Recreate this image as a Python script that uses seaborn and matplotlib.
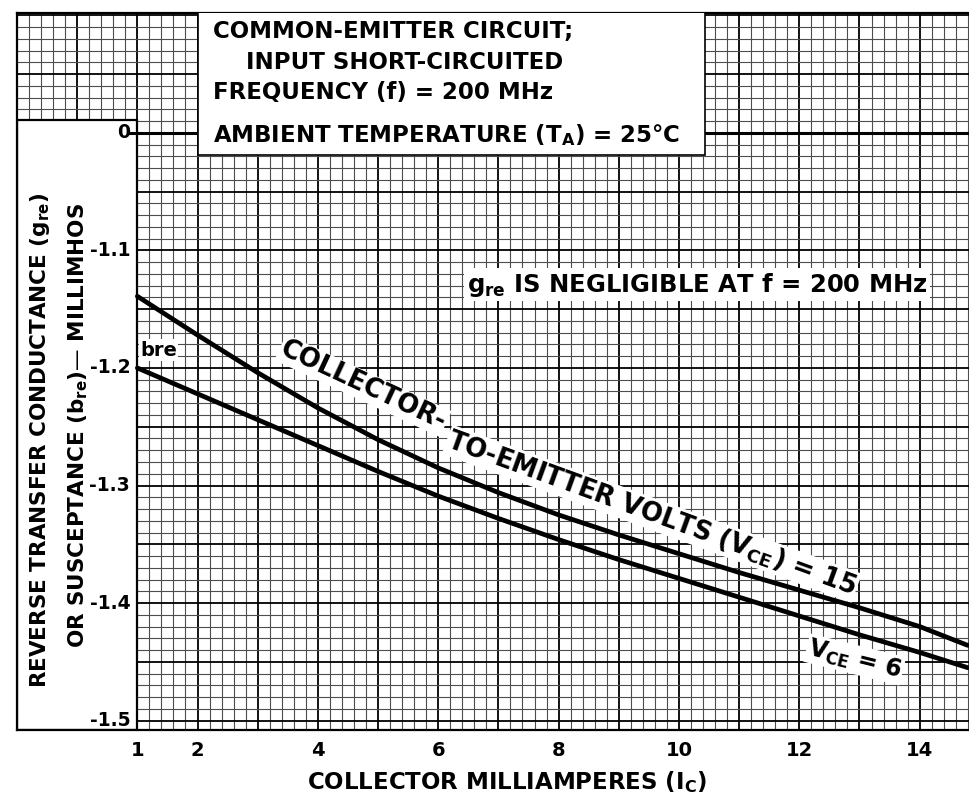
import numpy as np
import pandas as pd
import matplotlib.pyplot as plt
import seaborn as sns
from matplotlib.ticker import MultipleLocator, FuncFormatter
from matplotlib.patches import Rectangle

# collector current (mA) and reverse transfer susceptance b_re (millimhos)
ic = [1, 2, 3, 4, 5, 6, 7, 8, 9, 10, 11, 12, 13, 14, 14.8]
bre_vce15 = [-1.139, -1.172, -1.204, -1.234, -1.261, -1.285, -1.306, -1.325,
             -1.342, -1.358, -1.374, -1.389, -1.404, -1.420, -1.436]
bre_vce6 = [-1.200, -1.222, -1.244, -1.266, -1.288, -1.309, -1.328, -1.346,
            -1.363, -1.379, -1.395, -1.411, -1.427, -1.442, -1.455]
x_ticks = [1, 2, 4, 6, 8, 10, 12, 14]
y_ticks = [-1.0, -1.1, -1.2, -1.3, -1.4, -1.5]
y_tick_labels = ['0', '-1.1', '-1.2', '-1.3', '-1.4', '-1.5']

df = pd.DataFrame({'ic': ic * 2,
                   'bre': bre_vce15 + bre_vce6,
                   'vce': ['15'] * len(ic) + ['6'] * len(ic)})

sns.set_style('white')
plt.rcParams['font.family'] = ['DejaVu Sans']
plt.rcParams['mathtext.fontset'] = 'dejavusans'
plt.rcParams['mathtext.default'] = 'bf'
plt.rcParams['text.color'] = 'black'
plt.rcParams['xtick.color'] = 'black'

fig = plt.figure(figsize=(9.69, 8.05), dpi=100)
ax = fig.add_axes([17/969, 75/805, 952/969, 717/805])

# curves
sns.lineplot(data=df, x='ic', y='bre', hue='vce', palette=['black', 'black'],
             lw=3.4, legend=False, ax=ax, zorder=4)
ax.set_xlabel('')
ax.set_ylabel('')
ax.set_xlim(-1.0, 14.82)
ax.set_ylim(-1.508, -0.898)

# graph paper grid
ax.xaxis.set_major_locator(MultipleLocator(1))
ax.xaxis.set_minor_locator(MultipleLocator(0.2))
ax.yaxis.set_major_locator(MultipleLocator(0.05))
ax.yaxis.set_minor_locator(MultipleLocator(0.01))
ax.grid(which='major', color='black', lw=1.3)
ax.grid(which='minor', color='0.3', lw=0.8)
ax.set_axisbelow(True)
ax.xaxis.set_major_formatter(FuncFormatter(
    lambda v, p: f'{int(round(v))}' if int(round(v)) in x_ticks and abs(v - round(v)) < 1e-6 else ''))
ax.tick_params(axis='x', which='both', length=0, labelsize=14, pad=8, labelcolor='black')
ax.tick_params(axis='y', which='both', length=0, labelleft=False)
for lab in ax.get_xticklabels():
    lab.set_fontweight('bold')
for s in ['top', 'left', 'bottom']:
    ax.spines[s].set_linewidth(1.6)
    ax.spines[s].set_color('black')
ax.spines['right'].set_visible(False)

# white panel that holds the y labels
ax.add_patch(Rectangle((-1.0, -1.508), 2.0, 0.519, facecolor='white',
                       edgecolor='black', lw=1.6, zorder=1))

# zero line (broken axis)
ax.axhline(-1.0, xmin=(0.85 + 1.0) / 15.82, color='black', lw=2.2, zorder=2)

for v, t in zip(y_ticks, y_tick_labels):
    ax.text(0.88, v, t, ha='right', va='center', fontsize=13.5, fontweight='bold', zorder=5)

# header box
ax.add_patch(Rectangle((2.01, -1.019), 8.43, 0.2, facecolor='white',
                       edgecolor='black', lw=1.2, zorder=3))
tx = 2.25
ax.text(tx, -0.914, 'COMMON-EMITTER CIRCUIT;', fontsize=16.5, fontweight='bold', va='center', zorder=5)
ax.text(tx + 0.55, -0.940, 'INPUT SHORT-CIRCUITED', fontsize=16.5, fontweight='bold', va='center', zorder=5)
ax.text(tx, -0.966, 'FREQUENCY (f) = 200 MHz', fontsize=16.5, fontweight='bold', va='center', zorder=5)
ax.text(tx, -1.002, 'AMBIENT TEMPERATURE (T$_\\mathbf{A}$) = 25°C', fontsize=16.5,
        fontweight='bold', va='center', zorder=5)

ax.text(10.3, -1.129, 'g$_\\mathbf{re}$ IS NEGLIGIBLE AT f = 200 MHz', fontsize=17.5,
        fontweight='bold', ha='center', va='center', zorder=5,
        bbox=dict(facecolor='white', edgecolor='none', pad=2))

ax.text(1.35, -1.185, 'bre', fontsize=14, fontweight='bold', ha='center', va='center', zorder=5,
        bbox=dict(facecolor='white', edgecolor='none', pad=1))

# curve labels sit just above the curves (drawn under the lines)
ax.text(4.75, -1.215, 'COLLECTOR-', fontsize=18.5, fontweight='bold', ha='center', va='center',
        rotation=-25, rotation_mode='anchor', zorder=3.6,
        bbox=dict(facecolor='white', edgecolor='none', pad=1))
ax.text(9.55, -1.324, 'TO-EMITTER VOLTS (V$_\\mathbf{CE}$) = 15', fontsize=18.5, fontweight='bold',
        ha='center', va='center', rotation=-20, rotation_mode='anchor', zorder=3.6,
        bbox=dict(facecolor='white', edgecolor='none', pad=1))
ax.text(12.92, -1.448, 'V$_\\mathbf{CE}$ = 6', fontsize=17, fontweight='bold',
        ha='center', va='center', rotation=-14, rotation_mode='anchor', zorder=3.6,
        bbox=dict(facecolor='white', edgecolor='none', pad=1))

# axis titles
fig.text(507/969, 1 - 782/805, 'COLLECTOR MILLIAMPERES (I$_\\mathbf{C}$)', fontsize=16.5,
         fontweight='bold', ha='center', va='center')
fig.text(40/969, 1 - 440/805, 'REVERSE TRANSFER CONDUCTANCE (g$_\\mathbf{re}$)', fontsize=15.5,
         fontweight='bold', ha='center', va='center', rotation=90)
fig.text(78/969, 1 - 425/805, 'OR SUSCEPTANCE (b$_\\mathbf{re}$)— MILLIMHOS', fontsize=15.5,
         fontweight='bold', ha='center', va='center', rotation=90)

fig.savefig('out.png', dpi=100)
